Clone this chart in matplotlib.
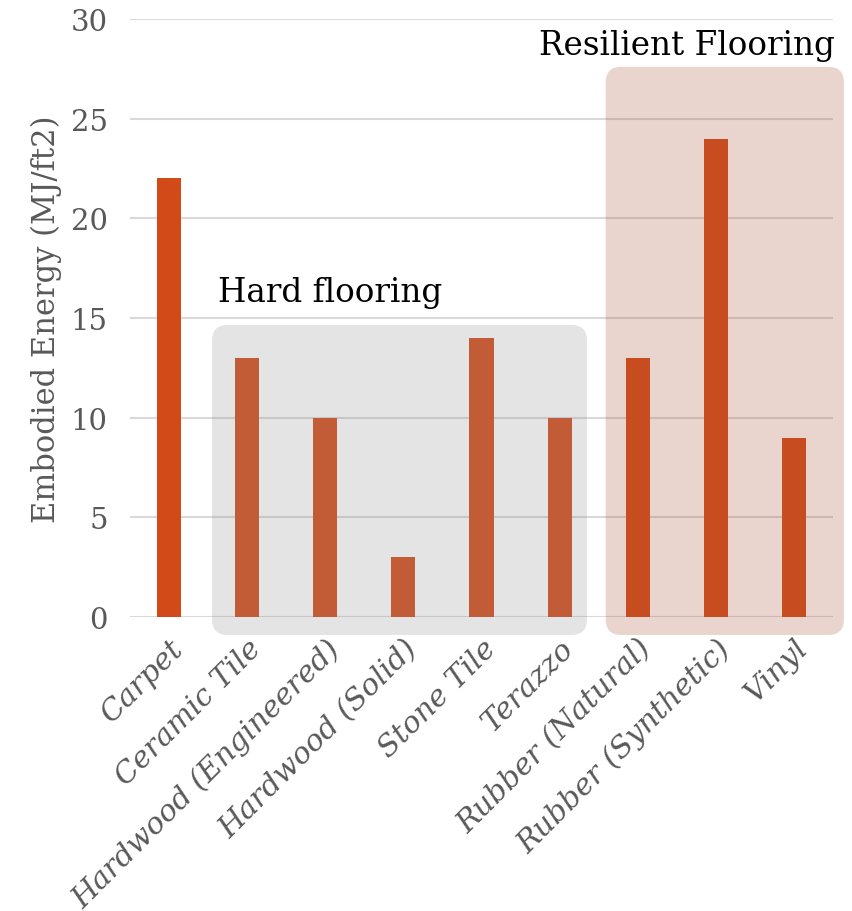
import matplotlib.pyplot as plt
from matplotlib.patches import FancyBboxPatch

# data
materials = ['Carpet', 'Ceramic Tile', 'Hardwood (Engineered)', 'Hardwood (Solid)',
             'Stone Tile', 'Terazzo', 'Rubber (Natural)', 'Rubber (Synthetic)', 'Vinyl']
energy = [22, 13, 10, 3, 14, 10, 13, 24, 9]
yticks = [0, 5, 10, 15, 20, 25, 30]

plt.rcParams['font.family'] = ['DejaVu Serif']

fig = plt.figure(figsize=(8.53, 9.12), dpi=100)
ax = fig.add_axes([130 / 853, 1 - 618 / 912, 703 / 853, 598 / 912])

x = list(range(len(materials)))
ax.bar(x, energy, width=0.31, color='#D24A17', zorder=2)

ax.set_xlim(-0.5, 8.5)
ax.set_ylim(0, 30)
ax.set_yticks(yticks)
ax.yaxis.grid(True, color='#D9D9D9', linewidth=1.5, zorder=0)
ax.set_axisbelow(True)
for s in ax.spines.values():
    s.set_visible(False)
ax.tick_params(axis='both', length=0, labelcolor='#595959')
ax.tick_params(axis='y', pad=16, labelsize=21)
ax.set_xticks(x)
ax.set_xticklabels(materials, rotation=45, ha='right', rotation_mode='anchor',
                   fontstyle='italic', fontsize=21.5)
ax.tick_params(axis='x', pad=12)
ax.set_ylabel('Embodied Energy (MJ/ft2)', fontsize=22, color='#595959', labelpad=6)

# group boxes (x in category units, y in data units)
asp = (1 / (598 / 30)) / (1 / 78)
hard = FancyBboxPatch((0.55, -0.9), 4.8, 15.55, boxstyle='round,pad=0,rounding_size=0.2',
                      mutation_aspect=asp, facecolor='#949494', alpha=0.25,
                      edgecolor='none', zorder=3, clip_on=False)
res = FancyBboxPatch((5.59, -0.9), 3.05, 28.5, boxstyle='round,pad=0,rounding_size=0.2',
                     mutation_aspect=asp, facecolor='#A8583C', alpha=0.25,
                     edgecolor='none', zorder=3, clip_on=False)
ax.add_patch(hard)
ax.add_patch(res)

ax.text(0.63, 15.85, 'Hard flooring', fontsize=23.5, color='black', ha='left',
        va='baseline', zorder=4)
ax.text(8.53, 28.25, 'Resilient Flooring', fontsize=23.5, color='black', ha='right',
        va='baseline', zorder=4, clip_on=False)

fig.savefig('out.png', dpi=100)
